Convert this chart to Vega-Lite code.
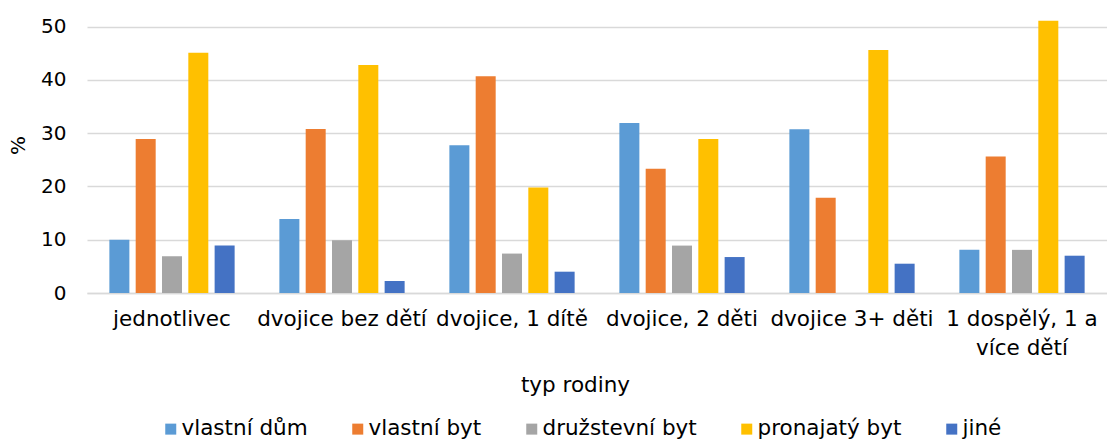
{
  "$schema": "https://vega.github.io/schema/vega-lite/v6.json",
  "width": 1020,
  "height": 293,
  "autosize": {"type": "none"},
  "padding": {"left": 87, "top": 0, "right": 0, "bottom": 147},
  "background": "white",
  "config": {
    "font": "DejaVu Sans",
    "view": {"stroke": null},
    "axis": {"labelFont": "DejaVu Sans", "titleFont": "DejaVu Sans", "labelColor": "#000000", "titleColor": "#000000", "titleFontWeight": "normal"},
    "legend": {"labelFont": "DejaVu Sans", "labelColor": "#000000"}
  },
  "data": {
    "values": [
      {"typ": "jednotlivec", "byt": "vlastní dům", "v": 10.0},
      {"typ": "jednotlivec", "byt": "vlastní byt", "v": 28.9},
      {"typ": "jednotlivec", "byt": "družstevní byt", "v": 6.9},
      {"typ": "jednotlivec", "byt": "pronajatý byt", "v": 45.1},
      {"typ": "jednotlivec", "byt": "jiné", "v": 8.9},
      {"typ": "dvojice bez dětí", "byt": "vlastní dům", "v": 13.9},
      {"typ": "dvojice bez dětí", "byt": "vlastní byt", "v": 30.8},
      {"typ": "dvojice bez dětí", "byt": "družstevní byt", "v": 9.9},
      {"typ": "dvojice bez dětí", "byt": "pronajatý byt", "v": 42.8},
      {"typ": "dvojice bez dětí", "byt": "jiné", "v": 2.25},
      {"typ": "dvojice, 1 dítě", "byt": "vlastní dům", "v": 27.75},
      {"typ": "dvojice, 1 dítě", "byt": "vlastní byt", "v": 40.7},
      {"typ": "dvojice, 1 dítě", "byt": "družstevní byt", "v": 7.4},
      {"typ": "dvojice, 1 dítě", "byt": "pronajatý byt", "v": 19.8},
      {"typ": "dvojice, 1 dítě", "byt": "jiné", "v": 4.0},
      {"typ": "dvojice, 2 děti", "byt": "vlastní dům", "v": 31.9},
      {"typ": "dvojice, 2 děti", "byt": "vlastní byt", "v": 23.3},
      {"typ": "dvojice, 2 děti", "byt": "družstevní byt", "v": 8.9},
      {"typ": "dvojice, 2 děti", "byt": "pronajatý byt", "v": 28.9},
      {"typ": "dvojice, 2 děti", "byt": "jiné", "v": 6.75},
      {"typ": "dvojice 3+ děti", "byt": "vlastní dům", "v": 30.75},
      {"typ": "dvojice 3+ děti", "byt": "vlastní byt", "v": 17.9},
      {"typ": "dvojice 3+ děti", "byt": "družstevní byt", "v": 0},
      {"typ": "dvojice 3+ děti", "byt": "pronajatý byt", "v": 45.6},
      {"typ": "dvojice 3+ děti", "byt": "jiné", "v": 5.5},
      {"typ": "1 dospělý, 1 a více dětí", "byt": "vlastní dům", "v": 8.1},
      {"typ": "1 dospělý, 1 a více dětí", "byt": "vlastní byt", "v": 25.6},
      {"typ": "1 dospělý, 1 a více dětí", "byt": "družstevní byt", "v": 8.1},
      {"typ": "1 dospělý, 1 a více dětí", "byt": "pronajatý byt", "v": 51.1},
      {"typ": "1 dospělý, 1 a více dětí", "byt": "jiné", "v": 7.0}
    ]
  },
  "mark": {"type": "bar"},
  "encoding": {
    "x": {
      "field": "typ", "type": "nominal", "sort": null,
      "scale": {"paddingInner": 0, "paddingOuter": 0},
      "axis": {
        "title": "typ rodiny", "labelAngle": 0, "labelFontSize": 21.5, "titleFontSize": 21.5,
        "labelPadding": 15, "labelLineHeight": 29, "labelBaseline": "top",
        "labelExpr": "datum.value == '1 dospělý, 1 a více dětí' ? ['1 dospělý, 1 a', 'více dětí'] : datum.value",
        "ticks": false, "domainColor": "#d9d9d9", "domainWidth": 1.5,
        "titleX": 488, "titleY": 92, "titleBaseline": "middle", "labelOverlap": false, "labelLimit": 300
      }
    },
    "xOffset": {
      "field": "byt", "type": "nominal",
      "sort": ["vlastní dům", "vlastní byt", "družstevní byt", "pronajatý byt", "jiné"],
      "scale": {"paddingInner": 0.24, "paddingOuter": 0.85}
    },
    "y": {
      "field": "v", "type": "quantitative",
      "scale": {"domain": [0, 55], "nice": false},
      "axis": {
        "title": "%", "values": [0, 10, 20, 30, 40, 50], "labelFontSize": 20, "titleFontSize": 20,
        "domain": false, "ticks": false, "labelPadding": 21,
        "gridColor": "#d9d9d9", "gridWidth": 1.5,
        "titleX": -69, "titleY": 145, "titleAngle": -90, "titleBaseline": "middle", "titleAlign": "center"
      }
    },
    "color": {
      "field": "byt", "type": "nominal",
      "sort": ["vlastní dům", "vlastní byt", "družstevní byt", "pronajatý byt", "jiné"],
      "scale": {
        "domain": ["vlastní dům", "vlastní byt", "družstevní byt", "pronajatý byt", "jiné"],
        "range": ["#5B9BD5", "#ED7D31", "#A5A5A5", "#FFC000", "#4472C4"]
      },
      "legend": {
        "title": null, "orient": "none", "direction": "horizontal",
        "legendX": 73, "legendY": 418, "padding": 0, "symbolType": "square", "symbolSize": 121,
        "symbolStrokeWidth": 0, "labelFontSize": 21.5, "labelOffset": 0, "columnPadding": 39
      }
    }
  }
}
